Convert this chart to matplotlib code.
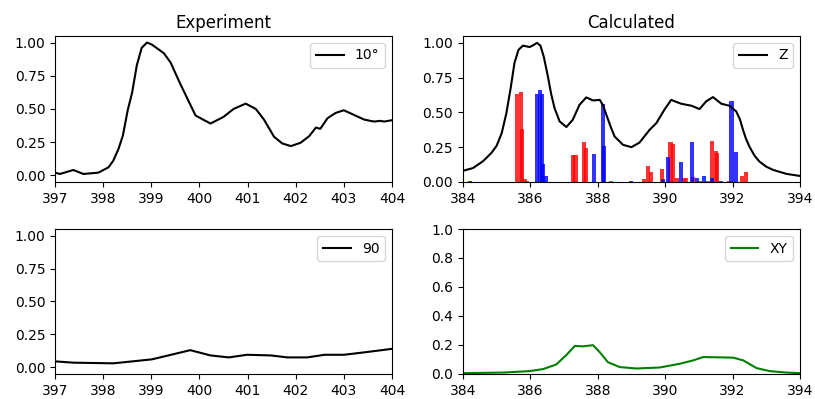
import numpy as np
import matplotlib
matplotlib.use("Agg")
import matplotlib.pyplot as plt

# =============================
# Experiment data
# =============================

exp10_x = [397.0, 397.1, 397.38, 397.59, 397.9, 398.11, 398.21, 398.32, 398.41, 398.51,
           398.6, 398.7, 398.8, 398.91, 399.01, 399.26, 399.4, 399.6, 399.92, 400.23,
           400.5, 400.71, 400.96, 401.17, 401.34, 401.55, 401.72, 401.9, 402.1, 402.28,
           402.42, 402.51, 402.66, 402.83, 403.0, 403.21, 403.42, 403.55, 403.63, 403.75,
           403.84, 404.0]
exp10_y = [0.02, 0.01, 0.04, 0.01, 0.02, 0.06, 0.11, 0.2, 0.3, 0.49,
           0.62, 0.83, 0.96, 1.0, 0.985, 0.92, 0.85, 0.69, 0.45, 0.39,
           0.44, 0.5, 0.54, 0.5, 0.42, 0.29, 0.24, 0.22, 0.245, 0.295,
           0.36, 0.35, 0.43, 0.47, 0.49, 0.455, 0.42, 0.41, 0.405, 0.41,
           0.405, 0.415]

exp90_x = [397.0, 397.38, 398.21, 399.01, 399.81, 400.23, 400.61, 400.99, 401.48,
           401.83, 402.24, 402.6, 403.0, 403.35, 404.0]
exp90_y = [0.045, 0.035, 0.03, 0.06, 0.13, 0.09, 0.075, 0.095, 0.09,
           0.075, 0.075, 0.095, 0.095, 0.11, 0.14]

# =============================
# Calculated data
# =============================

z_x = [384.0, 384.3, 384.6, 384.85, 385.0, 385.15, 385.29, 385.42, 385.53, 385.65,
       385.78, 385.98, 386.1, 386.2, 386.3, 386.4, 386.52, 386.62, 386.72, 386.87,
       387.07, 387.26, 387.46, 387.66, 387.86, 388.06, 388.16, 388.26, 388.38, 388.5,
       388.75, 389.0, 389.24, 389.54, 389.74, 389.98, 390.18, 390.48, 390.78, 391.02,
       391.22, 391.42, 391.67, 391.91, 392.11, 392.22, 392.31, 392.4, 392.5, 392.65,
       392.8, 393.0, 393.2, 393.6, 394.0]
z_y = [0.08, 0.1, 0.15, 0.21, 0.26, 0.35, 0.495, 0.68, 0.856, 0.95,
       0.98, 0.97, 0.985, 1.0, 0.98, 0.9, 0.76, 0.63, 0.53, 0.435,
       0.395, 0.447, 0.555, 0.608, 0.586, 0.59, 0.55, 0.48, 0.4, 0.327,
       0.267, 0.25, 0.283, 0.375, 0.423, 0.52, 0.59, 0.562, 0.548, 0.524,
       0.58, 0.61, 0.562, 0.548, 0.507, 0.45, 0.375, 0.31, 0.255, 0.19,
       0.146, 0.11, 0.087, 0.058, 0.043]

red_x = [385.61, 385.71, 385.76, 385.83, 385.89, 387.28, 387.34, 387.58, 387.64, 388.4,
         389.37, 389.49, 389.58, 389.9, 390.16, 390.22, 390.34, 390.55, 390.63, 390.84,
         391.02, 391.26, 391.38, 391.5, 391.55, 391.9, 392.28, 392.39]
red_h = [0.634, 0.65, 0.38, 0.02, 0.01, 0.195, 0.195, 0.288, 0.247, 0.01,
         0.02, 0.115, 0.072, 0.094, 0.29, 0.275, 0.03, 0.03, 0.03, 0.035,
         0.01, 0.01, 0.296, 0.22, 0.21, 0.01, 0.043, 0.074]

blue_x = [384.2, 386.2, 386.28, 386.35, 386.37, 386.45, 387.9, 388.17, 388.2, 388.98,
          389.95, 390.08, 390.48, 390.79, 390.94, 391.16, 391.4, 391.66, 391.97, 392.11]
blue_h = [0.005, 0.634, 0.663, 0.634, 0.13, 0.04, 0.202, 0.562, 0.26, 0.01,
          0.02, 0.18, 0.144, 0.286, 0.025, 0.043, 0.03, 0.01, 0.584, 0.216]

xy_x = [384.0, 385.19, 385.98, 386.38, 386.77, 387.07, 387.32, 387.56, 387.86, 388.06,
        388.3, 388.65, 389.15, 389.84, 390.44, 390.83, 391.13, 391.62, 392.02, 392.32,
        392.71, 393.1, 393.6, 394.0]
xy_y = [0.005, 0.009, 0.019, 0.033, 0.065, 0.13, 0.193, 0.19, 0.198, 0.15,
        0.081, 0.047, 0.037, 0.044, 0.07, 0.093, 0.116, 0.114, 0.112, 0.093,
        0.04, 0.019, 0.009, 0.005]

# =============================
# Figure
# =============================

fig = plt.figure(figsize=(8.15, 3.99), dpi=100)

ax1 = fig.add_axes([0.0675, 0.544, 0.4135, 0.366])
ax2 = fig.add_axes([0.568, 0.544, 0.4135, 0.366])
ax3 = fig.add_axes([0.0675, 0.063, 0.4135, 0.363])
ax4 = fig.add_axes([0.568, 0.063, 0.4135, 0.363])

# top left
ax1.plot(exp10_x, exp10_y, color="black", label="10°")
ax1.set_xlim(397, 404)
ax1.set_ylim(-0.05, 1.05)
ax1.set_yticks([0, 0.25, 0.5, 0.75, 1.0])
ax1.set_title("Experiment")
ax1.legend(loc="upper right")

# top right
ax2.plot(z_x, z_y, color="black", label="Z")
ax2.bar(red_x, red_h, width=0.12, color="red", alpha=0.8)
ax2.bar(blue_x, blue_h, width=0.12, color="blue", alpha=0.8)
ax2.set_xlim(384, 394)
ax2.set_ylim(0, 1.05)
ax2.set_yticks([0, 0.25, 0.5, 0.75, 1.0])
ax2.set_xticks([384, 386, 388, 390, 392, 394])
ax2.set_title("Calculated")
ax2.legend(loc="upper right")

# bottom left
ax3.plot(exp90_x, exp90_y, color="black", label="90")
ax3.set_xlim(397, 404)
ax3.set_ylim(-0.05, 1.05)
ax3.set_yticks([0, 0.25, 0.5, 0.75, 1.0])
ax3.legend(loc="upper right")

# bottom right
ax4.plot(xy_x, xy_y, color="green", label="XY")
ax4.set_xlim(384, 394)
ax4.set_ylim(0, 1.0)
ax4.set_xticks([384, 386, 388, 390, 392, 394])
ax4.legend(loc="upper right")

fig.savefig("out.png", dpi=100)
plt.close(fig)
